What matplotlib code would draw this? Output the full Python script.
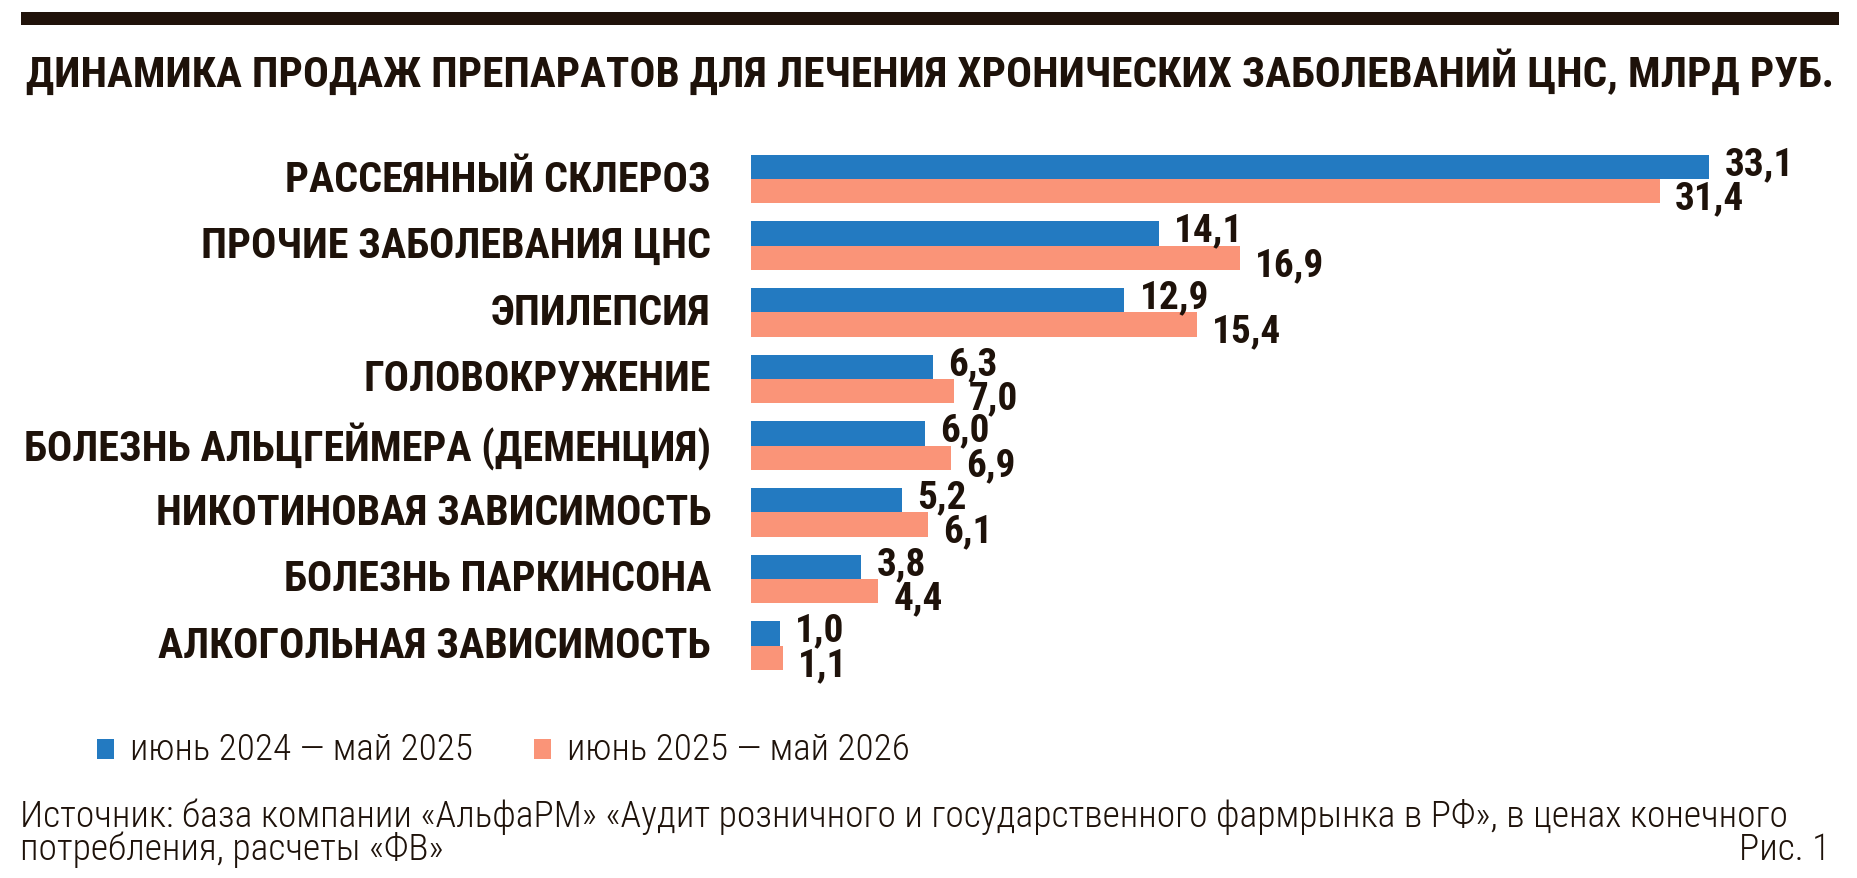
#!/usr/bin/env python3
import numpy as np
import matplotlib
matplotlib.use("Agg")
import matplotlib.pyplot as plt
from matplotlib.patches import Rectangle

# data
categories = [
    "РАССЕЯННЫЙ СКЛЕРОЗ",
    "ПРОЧИЕ ЗАБОЛЕВАНИЯ ЦНС",
    "ЭПИЛЕПСИЯ",
    "ГОЛОВОКРУЖЕНИЕ",
    "БОЛЕЗНЬ АЛЬЦГЕЙМЕРА (ДЕМЕНЦИЯ)",
    "НИКОТИНОВАЯ ЗАВИСИМОСТЬ",
    "БОЛЕЗНЬ ПАРКИНСОНА",
    "АЛКОГОЛЬНАЯ ЗАВИСИМОСТЬ",
]
sales_2024_25 = [33.1, 14.1, 12.9, 6.3, 6.0, 5.2, 3.8, 1.0]
sales_2025_26 = [31.4, 16.9, 15.4, 7.0, 6.9, 6.1, 4.4, 1.1]
series_labels = ["июнь 2024 — май 2025", "июнь 2025 — май 2026"]

title = "ДИНАМИКА ПРОДАЖ ПРЕПАРАТОВ ДЛЯ ЛЕЧЕНИЯ ХРОНИЧЕСКИХ ЗАБОЛЕВАНИЙ ЦНС, МЛРД РУБ."
source_lines = [
    "Источник: база компании «АльфаРМ» «Аудит розничного и государственного фармрынка в РФ», в ценах конечного",
    "потребления, расчеты «ФВ»",
]
fig_label = "Рис. 1"

BLUE = "#237AC1"
ORANGE = "#FA9478"
INK = "#1E120A"
FONT = ["Roboto Condensed", "DejaVu Sans"]

W, H = 1857, 879
plt.rcParams["font.family"] = FONT


def fx(px):
    return px / W


def fy(py):
    return 1 - py / H


def fit_width(fig, txt, target_px):
    # shrink/grow font so the rendered text spans target_px
    r = fig.canvas.get_renderer()
    w = txt.get_window_extent(renderer=r).width
    txt.set_fontsize(txt.get_fontsize() * target_px / w)


fig = plt.figure(figsize=(W / 100, H / 100), dpi=100)
fig.patch.set_facecolor("white")

# dark strip on top
fig.add_artist(Rectangle((fx(21), fy(26)), fx(1839) - fx(21), fy(13) - fy(26),
                         transform=fig.transFigure, color="#20120A", lw=0))

t = fig.text(fx(26), fy(73), title, ha="left", va="center", fontsize=30,
             fontweight="bold", color=INK)
fit_width(fig, t, 1804)

# bars
row_top, row_bot = 180.0, 646.6
step = (row_bot - row_top) / (len(categories) - 1)
ax = fig.add_axes([fx(751), fy(row_bot + step / 2), fx(1764) - fx(751),
                   (row_bot - row_top + step) / H])
y = np.arange(len(categories))
h = 0.364
ax.barh(y - h / 2, sales_2024_25, height=h, color=BLUE, lw=0)
ax.barh(y + h / 2, sales_2025_26, height=h, color=ORANGE, lw=0)
ax.set_xlim(0, 35)
ax.set_ylim(len(categories) - 0.5, -0.5)
ax.axis("off")

# category labels
labs = []
for yi, c in zip(y, categories):
    labs.append(ax.annotate(c, (0, yi), xytext=(-40, 0), textcoords="offset pixels",
                            ha="right", va="center", fontsize=22,
                            fontweight="bold", color=INK))
r = fig.canvas.get_renderer()
widest = max(l.get_window_extent(renderer=r).width for l in labs)
lab_size = 22 * 687 / widest
for l in labs:
    l.set_fontsize(lab_size)

val_size = lab_size * 0.93
for yi, a, b in zip(y, sales_2024_25, sales_2025_26):
    ax.annotate(f"{a:.1f}".replace(".", ","), (a, yi - h / 2 - 0.05), xytext=(11, 0),
                textcoords="offset points", ha="left", va="center",
                fontsize=val_size, fontweight="bold", color=INK)
    ax.annotate(f"{b:.1f}".replace(".", ","), (b, yi + h / 2 + 0.1), xytext=(11, 0),
                textcoords="offset points", ha="left", va="center",
                fontsize=val_size, fontweight="bold", color=INK)

# legend
leg_y = 750
for (sq_x, tx_x), lab, col in zip([(97, 130), (534, 567)], series_labels, [BLUE, ORANGE]):
    fig.add_artist(Rectangle((fx(sq_x), fy(leg_y + 10)), fx(17), 20 / H,
                             transform=fig.transFigure, color=col, lw=0))
    lt = fig.text(fx(tx_x), fy(leg_y), lab, ha="left", va="center", fontsize=20,
                  fontweight="light", color=INK)
    fit_width(fig, lt, 343)

# source
s1 = fig.text(fx(20), fy(817), source_lines[0], ha="left", va="center", fontsize=20,
              fontweight="light", color=INK)
fit_width(fig, s1, 1766)
fig.text(fx(20), fy(850), source_lines[1], ha="left", va="center",
         fontsize=s1.get_fontsize(), fontweight="light", color=INK)
fig.text(fx(1830), fy(850), fig_label, ha="right", va="center",
         fontsize=s1.get_fontsize(), fontweight="light", color=INK)

fig.savefig("out.png", dpi=100, facecolor="white")
